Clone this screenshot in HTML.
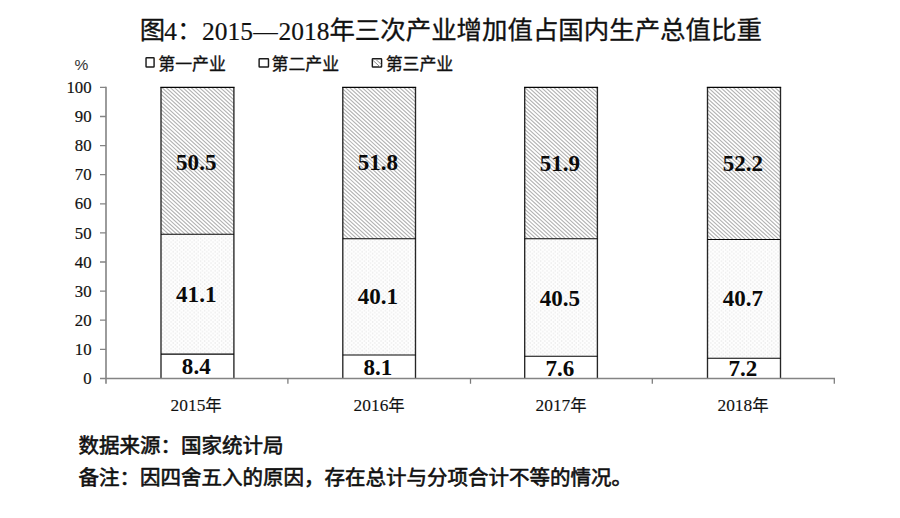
<!DOCTYPE html>
<html lang="zh-CN">
<head>
<meta charset="utf-8">
<title>图4：2015—2018年三次产业增加值占国内生产总值比重</title>
<style>
html,body{margin:0;padding:0;background:#fff;}
body{width:900px;height:518px;overflow:hidden;font-family:"Liberation Serif",serif;}
svg{display:block;}
text{white-space:pre;}
</style>
</head>
<body>
<svg width="900" height="518" viewBox="0 0 900 518" role="img">
<desc>图4：2015—2018年三次产业增加值占国内生产总值比重。图例：第一产业、第二产业、第三产业。数据来源：国家统计局。备注：因四舍五入的原因，存在总计与分项合计不等的情况。</desc>
<defs>
<pattern id="dots" width="4.2" height="3.8" patternUnits="userSpaceOnUse">
<rect width="4.2" height="3.8" fill="#fefefe"/>
<rect x="0.4" y="0.4" width="1.2" height="1.1" fill="#e2e2e2"/>
<rect x="2.5" y="2.3" width="1.2" height="1.1" fill="#e2e2e2"/>
</pattern>
</defs>
<rect width="900" height="518" fill="#fff"/>
<text transform="translate(139.8,38.7) scale(1.03,1)" text-anchor="start" style="font-family:'Liberation Sans','Noto Sans CJK SC',sans-serif;font-size:24.7px" fill="#111" stroke="#111" stroke-width="0.32" stroke-linejoin="round">图</text>
<text transform="translate(164.3,39.7) scale(1.03,1)" text-anchor="start" style="font-family:'Liberation Serif',serif;font-size:24.7px" fill="#111" stroke="#111" stroke-width="0.18">4</text>
<text transform="translate(177,38.7) scale(1.03,1)" text-anchor="start" style="font-family:'Liberation Sans','Noto Sans CJK SC',sans-serif;font-size:24.7px" fill="#111">：</text>
<text transform="translate(202.1,39.7) scale(1.03,1)" text-anchor="start" style="font-family:'Liberation Serif',serif;font-size:24.7px" fill="#111" stroke="#111" stroke-width="0.18">2015</text>
<text x="253.3" y="39.7" text-anchor="start" style="font-family:'Liberation Serif',serif;font-size:24.7px" fill="#111" textLength="24.6" lengthAdjust="spacingAndGlyphs">—</text>
<text transform="translate(278.6,39.7) scale(1.03,1)" text-anchor="start" style="font-family:'Liberation Serif',serif;font-size:24.7px" fill="#111" stroke="#111" stroke-width="0.18">2018</text>
<text x="329.4" y="38.7" text-anchor="start" style="font-family:'Liberation Sans','Noto Sans CJK SC',sans-serif;font-size:24.7px" fill="#111" stroke="#111" stroke-width="0.32" stroke-linejoin="round" textLength="432.5" lengthAdjust="spacingAndGlyphs">年三次产业增加值占国内生产总值比重</text>
<text x="74.6" y="69.6" text-anchor="start" style="font-family:'Liberation Sans',sans-serif;font-size:15.5px" fill="#333">%</text>
<rect x="146.03" y="57.73" width="8.05" height="9.35" fill="#fff" stroke="#1c1c1c" stroke-width="1.45" rx="0.6"/>
<text x="158.25" y="70" text-anchor="start" style="font-family:'Liberation Sans','Noto Sans CJK SC',sans-serif;font-size:16.5px" fill="#111" stroke="#111" stroke-width="0.32" stroke-linejoin="round" textLength="67.6" lengthAdjust="spacingAndGlyphs">第一产业</text>
<rect x="259.12" y="58.73" width="9.35" height="8.35" fill="#fff" stroke="#1c1c1c" stroke-width="1.45" rx="0.6"/>
<text x="271.55" y="70" text-anchor="start" style="font-family:'Liberation Sans','Noto Sans CJK SC',sans-serif;font-size:16.5px" fill="#111" stroke="#111" stroke-width="0.32" stroke-linejoin="round" textLength="67.6" lengthAdjust="spacingAndGlyphs">第二产业</text>
<rect x="372.33" y="58.73" width="9.25" height="8.35" fill="#fff" stroke="#1c1c1c" stroke-width="1.45" rx="0.6"/>
<path d="M372.93 60.33L379.78 66.67M375.93 59.52L381.18 64.28" stroke="#8e8e8e" stroke-width="1" fill="none"/>
<text x="385.65" y="70" text-anchor="start" style="font-family:'Liberation Sans','Noto Sans CJK SC',sans-serif;font-size:16.5px" fill="#111" stroke="#111" stroke-width="0.32" stroke-linejoin="round" textLength="67.6" lengthAdjust="spacingAndGlyphs">第三产业</text>
<clipPath id="c161"><rect x="161" y="87.4" width="72.9" height="146.8"/></clipPath>
<path clip-path="url(#c161)" d="M-6.16 86.4L157.13 235.2M-1.99 86.4L161.3 235.2M2.18 86.4L165.47 235.2M6.35 86.4L169.64 235.2M10.52 86.4L173.81 235.2M14.69 86.4L177.98 235.2M18.86 86.4L182.15 235.2M23.03 86.4L186.32 235.2M27.2 86.4L190.49 235.2M31.37 86.4L194.66 235.2M35.54 86.4L198.83 235.2M39.71 86.4L203 235.2M43.88 86.4L207.17 235.2M48.05 86.4L211.34 235.2M52.22 86.4L215.51 235.2M56.39 86.4L219.68 235.2M60.56 86.4L223.85 235.2M64.73 86.4L228.02 235.2M68.9 86.4L232.19 235.2M73.07 86.4L236.36 235.2M77.24 86.4L240.53 235.2M81.41 86.4L244.7 235.2M85.58 86.4L248.87 235.2M89.75 86.4L253.04 235.2M93.92 86.4L257.21 235.2M98.09 86.4L261.38 235.2M102.26 86.4L265.55 235.2M106.43 86.4L269.72 235.2M110.6 86.4L273.89 235.2M114.77 86.4L278.06 235.2M118.94 86.4L282.23 235.2M123.11 86.4L286.4 235.2M127.28 86.4L290.57 235.2M131.45 86.4L294.74 235.2M135.62 86.4L298.91 235.2M139.79 86.4L303.08 235.2M143.96 86.4L307.25 235.2M148.13 86.4L311.42 235.2M152.3 86.4L315.59 235.2M156.47 86.4L319.76 235.2M160.64 86.4L323.93 235.2M164.81 86.4L328.1 235.2M168.98 86.4L332.27 235.2M173.15 86.4L336.44 235.2M177.32 86.4L340.61 235.2M181.49 86.4L344.78 235.2M185.66 86.4L348.95 235.2M189.83 86.4L353.12 235.2M194 86.4L357.29 235.2M198.17 86.4L361.46 235.2M202.34 86.4L365.63 235.2M206.51 86.4L369.8 235.2M210.68 86.4L373.97 235.2M214.85 86.4L378.14 235.2M219.02 86.4L382.31 235.2M223.19 86.4L386.48 235.2M227.36 86.4L390.65 235.2M231.53 86.4L394.82 235.2M235.7 86.4L398.99 235.2M239.87 86.4L403.16 235.2" stroke="#b2b2b2" stroke-width="1.1" fill="none"/>
<rect x="161" y="234.2" width="72.9" height="119.9" fill="url(#dots)"/>
<path d="M161 378.4V87.4M233.9 87.4V378.4" fill="none" stroke="#262626" stroke-width="1.35"/>
<path d="M160.32 87.4H234.58M161 234.2H233.9M161 354.1H233.9" fill="none" stroke="#050505" stroke-width="1.1"/>
<text transform="translate(196.25,169.6) scale(1.02,1)" text-anchor="middle" style="font-family:'Liberation Serif',serif;font-weight:bold;font-size:22.6px" fill="#0a0a0a">50.5</text>
<text transform="translate(196.25,301.7) scale(1.02,1)" text-anchor="middle" style="font-family:'Liberation Serif',serif;font-weight:bold;font-size:22.6px" fill="#0a0a0a">41.1</text>
<text transform="translate(196.25,373.7) scale(1.02,1)" text-anchor="middle" style="font-family:'Liberation Serif',serif;font-weight:bold;font-size:22.6px" fill="#0a0a0a">8.4</text>
<text x="170.6" y="410.6" text-anchor="start" style="font-family:'Liberation Serif',serif;font-size:17.4px" fill="#111" stroke="#111" stroke-width="0.12">2015</text>
<text x="205.3" y="410.6" text-anchor="start" style="font-family:'Liberation Sans','Noto Sans CJK SC',sans-serif;font-size:16.4px" fill="#111" stroke="#111" stroke-width="0.15" stroke-linejoin="round">年</text>
<clipPath id="c342"><rect x="342.8" y="87.4" width="72.7" height="151.4"/></clipPath>
<path clip-path="url(#c342)" d="M168.98 86.4L337.31 239.8M173.15 86.4L341.48 239.8M177.32 86.4L345.65 239.8M181.49 86.4L349.82 239.8M185.66 86.4L353.99 239.8M189.83 86.4L358.16 239.8M194 86.4L362.33 239.8M198.17 86.4L366.5 239.8M202.34 86.4L370.67 239.8M206.51 86.4L374.84 239.8M210.68 86.4L379.01 239.8M214.85 86.4L383.18 239.8M219.02 86.4L387.35 239.8M223.19 86.4L391.52 239.8M227.36 86.4L395.69 239.8M231.53 86.4L399.86 239.8M235.7 86.4L404.03 239.8M239.87 86.4L408.2 239.8M244.04 86.4L412.37 239.8M248.21 86.4L416.54 239.8M252.38 86.4L420.71 239.8M256.55 86.4L424.88 239.8M260.72 86.4L429.05 239.8M264.89 86.4L433.22 239.8M269.06 86.4L437.39 239.8M273.23 86.4L441.56 239.8M277.4 86.4L445.73 239.8M281.57 86.4L449.9 239.8M285.74 86.4L454.07 239.8M289.91 86.4L458.24 239.8M294.08 86.4L462.41 239.8M298.25 86.4L466.58 239.8M302.42 86.4L470.75 239.8M306.59 86.4L474.92 239.8M310.76 86.4L479.09 239.8M314.93 86.4L483.26 239.8M319.1 86.4L487.43 239.8M323.27 86.4L491.6 239.8M327.44 86.4L495.77 239.8M331.61 86.4L499.94 239.8M335.78 86.4L504.11 239.8M339.95 86.4L508.28 239.8M344.12 86.4L512.45 239.8M348.29 86.4L516.62 239.8M352.46 86.4L520.79 239.8M356.63 86.4L524.96 239.8M360.8 86.4L529.13 239.8M364.97 86.4L533.3 239.8M369.14 86.4L537.47 239.8M373.31 86.4L541.64 239.8M377.48 86.4L545.81 239.8M381.65 86.4L549.98 239.8M385.82 86.4L554.15 239.8M389.99 86.4L558.32 239.8M394.16 86.4L562.49 239.8M398.33 86.4L566.66 239.8M402.5 86.4L570.83 239.8M406.67 86.4L575 239.8M410.84 86.4L579.17 239.8M415.01 86.4L583.34 239.8M419.18 86.4L587.51 239.8" stroke="#b2b2b2" stroke-width="1.1" fill="none"/>
<rect x="342.8" y="238.8" width="72.7" height="116.2" fill="url(#dots)"/>
<path d="M342.8 378.4V87.4M415.5 87.4V378.4" fill="none" stroke="#262626" stroke-width="1.35"/>
<path d="M342.12 87.4H416.18M342.8 238.8H415.5M342.8 355H415.5" fill="none" stroke="#050505" stroke-width="1.1"/>
<text transform="translate(377.95,170.2) scale(1.02,1)" text-anchor="middle" style="font-family:'Liberation Serif',serif;font-weight:bold;font-size:22.6px" fill="#0a0a0a">51.8</text>
<text transform="translate(377.95,304.4) scale(1.02,1)" text-anchor="middle" style="font-family:'Liberation Serif',serif;font-weight:bold;font-size:22.6px" fill="#0a0a0a">40.1</text>
<text transform="translate(377.95,374.6) scale(1.02,1)" text-anchor="middle" style="font-family:'Liberation Serif',serif;font-weight:bold;font-size:22.6px" fill="#0a0a0a">8.1</text>
<text x="353.6" y="410.6" text-anchor="start" style="font-family:'Liberation Serif',serif;font-size:17.4px" fill="#111" stroke="#111" stroke-width="0.12">2016</text>
<text x="388.3" y="410.6" text-anchor="start" style="font-family:'Liberation Sans','Noto Sans CJK SC',sans-serif;font-size:16.4px" fill="#111" stroke="#111" stroke-width="0.15" stroke-linejoin="round">年</text>
<clipPath id="c524"><rect x="524.7" y="87.4" width="72.7" height="151.4"/></clipPath>
<path clip-path="url(#c524)" d="M352.46 86.4L520.79 239.8M356.63 86.4L524.96 239.8M360.8 86.4L529.13 239.8M364.97 86.4L533.3 239.8M369.14 86.4L537.47 239.8M373.31 86.4L541.64 239.8M377.48 86.4L545.81 239.8M381.65 86.4L549.98 239.8M385.82 86.4L554.15 239.8M389.99 86.4L558.32 239.8M394.16 86.4L562.49 239.8M398.33 86.4L566.66 239.8M402.5 86.4L570.83 239.8M406.67 86.4L575 239.8M410.84 86.4L579.17 239.8M415.01 86.4L583.34 239.8M419.18 86.4L587.51 239.8M423.35 86.4L591.68 239.8M427.52 86.4L595.85 239.8M431.69 86.4L600.02 239.8M435.86 86.4L604.19 239.8M440.03 86.4L608.36 239.8M444.2 86.4L612.53 239.8M448.37 86.4L616.7 239.8M452.54 86.4L620.87 239.8M456.71 86.4L625.04 239.8M460.88 86.4L629.21 239.8M465.05 86.4L633.38 239.8M469.22 86.4L637.55 239.8M473.39 86.4L641.72 239.8M477.56 86.4L645.89 239.8M481.73 86.4L650.06 239.8M485.9 86.4L654.23 239.8M490.07 86.4L658.4 239.8M494.24 86.4L662.57 239.8M498.41 86.4L666.74 239.8M502.58 86.4L670.91 239.8M506.75 86.4L675.08 239.8M510.92 86.4L679.25 239.8M515.09 86.4L683.42 239.8M519.26 86.4L687.59 239.8M523.43 86.4L691.76 239.8M527.6 86.4L695.93 239.8M531.77 86.4L700.1 239.8M535.94 86.4L704.27 239.8M540.11 86.4L708.44 239.8M544.28 86.4L712.61 239.8M548.45 86.4L716.78 239.8M552.62 86.4L720.95 239.8M556.79 86.4L725.12 239.8M560.96 86.4L729.29 239.8M565.13 86.4L733.46 239.8M569.3 86.4L737.63 239.8M573.47 86.4L741.8 239.8M577.64 86.4L745.97 239.8M581.81 86.4L750.14 239.8M585.98 86.4L754.31 239.8M590.15 86.4L758.48 239.8M594.32 86.4L762.65 239.8M598.49 86.4L766.82 239.8M602.66 86.4L770.99 239.8" stroke="#b2b2b2" stroke-width="1.1" fill="none"/>
<rect x="524.7" y="238.8" width="72.7" height="117.4" fill="url(#dots)"/>
<path d="M524.7 378.4V87.4M597.4 87.4V378.4" fill="none" stroke="#262626" stroke-width="1.35"/>
<path d="M524.03 87.4H598.08M524.7 238.8H597.4M524.7 356.2H597.4" fill="none" stroke="#050505" stroke-width="1.1"/>
<text transform="translate(559.85,171.3) scale(1.02,1)" text-anchor="middle" style="font-family:'Liberation Serif',serif;font-weight:bold;font-size:22.6px" fill="#0a0a0a">51.9</text>
<text transform="translate(559.85,305.8) scale(1.02,1)" text-anchor="middle" style="font-family:'Liberation Serif',serif;font-weight:bold;font-size:22.6px" fill="#0a0a0a">40.5</text>
<text transform="translate(559.85,375.9) scale(1.02,1)" text-anchor="middle" style="font-family:'Liberation Serif',serif;font-weight:bold;font-size:22.6px" fill="#0a0a0a">7.6</text>
<text x="535.5" y="410.6" text-anchor="start" style="font-family:'Liberation Serif',serif;font-size:17.4px" fill="#111" stroke="#111" stroke-width="0.12">2017</text>
<text x="570.2" y="410.6" text-anchor="start" style="font-family:'Liberation Sans','Noto Sans CJK SC',sans-serif;font-size:16.4px" fill="#111" stroke="#111" stroke-width="0.15" stroke-linejoin="round">年</text>
<clipPath id="c707"><rect x="707.5" y="87.4" width="73" height="152.1"/></clipPath>
<path clip-path="url(#c707)" d="M531.77 86.4L700.87 240.5M535.94 86.4L705.04 240.5M540.11 86.4L709.21 240.5M544.28 86.4L713.38 240.5M548.45 86.4L717.55 240.5M552.62 86.4L721.72 240.5M556.79 86.4L725.89 240.5M560.96 86.4L730.06 240.5M565.13 86.4L734.23 240.5M569.3 86.4L738.4 240.5M573.47 86.4L742.57 240.5M577.64 86.4L746.74 240.5M581.81 86.4L750.91 240.5M585.98 86.4L755.08 240.5M590.15 86.4L759.25 240.5M594.32 86.4L763.42 240.5M598.49 86.4L767.59 240.5M602.66 86.4L771.76 240.5M606.83 86.4L775.93 240.5M611 86.4L780.1 240.5M615.17 86.4L784.27 240.5M619.34 86.4L788.44 240.5M623.51 86.4L792.61 240.5M627.68 86.4L796.78 240.5M631.85 86.4L800.95 240.5M636.02 86.4L805.12 240.5M640.19 86.4L809.29 240.5M644.36 86.4L813.46 240.5M648.53 86.4L817.63 240.5M652.7 86.4L821.8 240.5M656.87 86.4L825.97 240.5M661.04 86.4L830.14 240.5M665.21 86.4L834.31 240.5M669.38 86.4L838.48 240.5M673.55 86.4L842.65 240.5M677.72 86.4L846.82 240.5M681.89 86.4L850.99 240.5M686.06 86.4L855.16 240.5M690.23 86.4L859.33 240.5M694.4 86.4L863.5 240.5M698.57 86.4L867.67 240.5M702.74 86.4L871.84 240.5M706.91 86.4L876.01 240.5M711.08 86.4L880.18 240.5M715.25 86.4L884.35 240.5M719.42 86.4L888.52 240.5M723.59 86.4L892.69 240.5M727.76 86.4L896.86 240.5M731.93 86.4L901.03 240.5M736.1 86.4L905.2 240.5M740.27 86.4L909.37 240.5M744.44 86.4L913.54 240.5M748.61 86.4L917.71 240.5M752.78 86.4L921.88 240.5M756.95 86.4L926.05 240.5M761.12 86.4L930.22 240.5M765.29 86.4L934.39 240.5M769.46 86.4L938.56 240.5M773.63 86.4L942.73 240.5M777.8 86.4L946.9 240.5M781.97 86.4L951.07 240.5M786.14 86.4L955.24 240.5" stroke="#b2b2b2" stroke-width="1.1" fill="none"/>
<rect x="707.5" y="239.5" width="73" height="118.8" fill="url(#dots)"/>
<path d="M707.5 378.4V87.4M780.5 87.4V378.4" fill="none" stroke="#262626" stroke-width="1.35"/>
<path d="M706.83 87.4H781.17M707.5 239.5H780.5M707.5 358.3H780.5" fill="none" stroke="#050505" stroke-width="1.1"/>
<text transform="translate(742.8,171.3) scale(1.02,1)" text-anchor="middle" style="font-family:'Liberation Serif',serif;font-weight:bold;font-size:22.6px" fill="#0a0a0a">52.2</text>
<text transform="translate(742.8,305.8) scale(1.02,1)" text-anchor="middle" style="font-family:'Liberation Serif',serif;font-weight:bold;font-size:22.6px" fill="#0a0a0a">40.7</text>
<text transform="translate(742.8,375.9) scale(1.02,1)" text-anchor="middle" style="font-family:'Liberation Serif',serif;font-weight:bold;font-size:22.6px" fill="#0a0a0a">7.2</text>
<text x="717.45" y="410.6" text-anchor="start" style="font-family:'Liberation Serif',serif;font-size:17.4px" fill="#111" stroke="#111" stroke-width="0.12">2018</text>
<text x="752.15" y="410.6" text-anchor="start" style="font-family:'Liberation Sans','Noto Sans CJK SC',sans-serif;font-size:16.4px" fill="#111" stroke="#111" stroke-width="0.15" stroke-linejoin="round">年</text>
<text x="91.6" y="384" text-anchor="end" style="font-family:'Liberation Serif',serif;font-size:16.8px" fill="#111" stroke="#111" stroke-width="0.18">0</text>
<text x="91.6" y="354.9" text-anchor="end" style="font-family:'Liberation Serif',serif;font-size:16.8px" fill="#111" stroke="#111" stroke-width="0.18">10</text>
<text x="91.6" y="325.8" text-anchor="end" style="font-family:'Liberation Serif',serif;font-size:16.8px" fill="#111" stroke="#111" stroke-width="0.18">20</text>
<text x="91.6" y="296.7" text-anchor="end" style="font-family:'Liberation Serif',serif;font-size:16.8px" fill="#111" stroke="#111" stroke-width="0.18">30</text>
<text x="91.6" y="267.6" text-anchor="end" style="font-family:'Liberation Serif',serif;font-size:16.8px" fill="#111" stroke="#111" stroke-width="0.18">40</text>
<text x="91.6" y="238.5" text-anchor="end" style="font-family:'Liberation Serif',serif;font-size:16.8px" fill="#111" stroke="#111" stroke-width="0.18">50</text>
<text x="91.6" y="209.4" text-anchor="end" style="font-family:'Liberation Serif',serif;font-size:16.8px" fill="#111" stroke="#111" stroke-width="0.18">60</text>
<text x="91.6" y="180.3" text-anchor="end" style="font-family:'Liberation Serif',serif;font-size:16.8px" fill="#111" stroke="#111" stroke-width="0.18">70</text>
<text x="91.6" y="151.2" text-anchor="end" style="font-family:'Liberation Serif',serif;font-size:16.8px" fill="#111" stroke="#111" stroke-width="0.18">80</text>
<text x="91.6" y="122.1" text-anchor="end" style="font-family:'Liberation Serif',serif;font-size:16.8px" fill="#111" stroke="#111" stroke-width="0.18">90</text>
<text x="91.6" y="93" text-anchor="end" style="font-family:'Liberation Serif',serif;font-size:16.8px" fill="#111" stroke="#111" stroke-width="0.18">100</text>
<path d="M106 86.8V383.7" fill="none" stroke="#979797" stroke-width="1.9"/>
<path d="M100 378.5H835M100 349.3H106M100 320.2H106M100 291.1H106M100 262H106M100 232.9H106M100 203.8H106M100 174.7H106M100 145.6H106M100 116.5H106M100 87.4H106" fill="none" stroke="#848484" stroke-width="1.3"/>
<path d="M287.9 378.4V383.7M470.5 378.4V383.7M652.3 378.4V383.7M834.3 378.4V383.7" fill="none" stroke="#7a7a7a" stroke-width="1.25"/>
<text x="78.55" y="452.7" text-anchor="start" style="font-family:'Liberation Sans','Noto Sans CJK SC',sans-serif;font-size:20px" fill="#111" stroke="#111" stroke-width="0.6" stroke-linejoin="round" textLength="205" lengthAdjust="spacingAndGlyphs">数据来源：国家统计局</text>
<text x="78.55" y="485" text-anchor="start" style="font-family:'Liberation Sans','Noto Sans CJK SC',sans-serif;font-size:20px" fill="#111" stroke="#111" stroke-width="0.6" stroke-linejoin="round" textLength="553.5" lengthAdjust="spacingAndGlyphs">备注：因四舍五入的原因，存在总计与分项合计不等的情况。</text>
</svg>
</body>
</html>
